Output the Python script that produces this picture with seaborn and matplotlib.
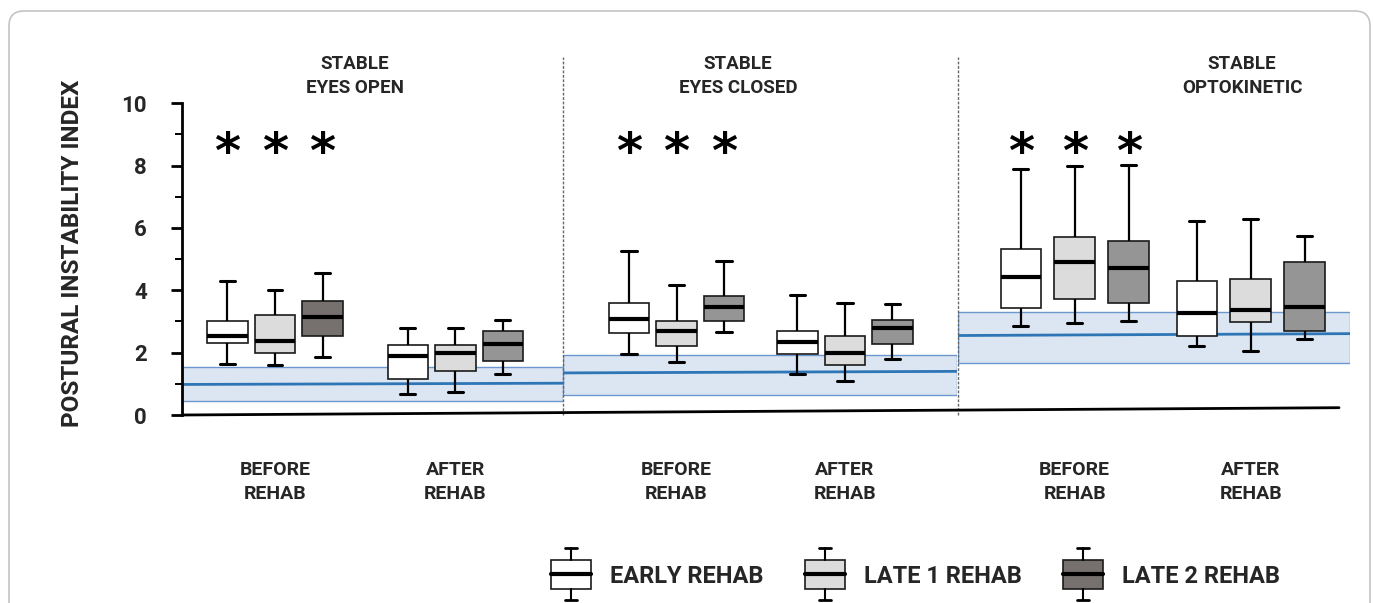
import matplotlib.pyplot as plt
import pandas as pd
import seaborn as sns
from matplotlib import transforms
from matplotlib.legend_handler import HandlerBase
from matplotlib.lines import Line2D
from matplotlib.patches import FancyBboxPatch, Patch, Rectangle

# ---- data ---------------------------------------------------------------
phases = ["BEFORE\nREHAB", "AFTER\nREHAB"]
groups = ["EARLY REHAB", "LATE 1 REHAB", "LATE 2 REHAB"]
panel_titles = ["STABLE\nEYES OPEN", "STABLE\nEYES CLOSED", "STABLE\nOPTOKINETIC"]

# five-number summaries per box: min, q1, median, q3, max
eyes_open_before = [[1.64, 2.30, 2.54, 3.00, 4.31],
                    [1.60, 2.00, 2.39, 3.22, 4.00],
                    [1.87, 2.54, 3.16, 3.65, 4.54]]
eyes_open_after = [[0.66, 1.17, 1.88, 2.24, 2.80],
                   [0.73, 1.41, 2.00, 2.23, 2.80],
                   [1.33, 1.73, 2.27, 2.68, 3.04]]
eyes_closed_before = [[1.95, 2.63, 3.07, 3.59, 5.27],
                      [1.71, 2.20, 2.69, 3.00, 4.17],
                      [2.67, 3.00, 3.48, 3.83, 4.94]]
eyes_closed_after = [[1.30, 1.97, 2.33, 2.70, 3.85],
                     [1.10, 1.59, 1.99, 2.54, 3.59],
                     [1.80, 2.29, 2.78, 3.05, 3.55]]
optokinetic_before = [[2.84, 3.42, 4.43, 5.32, 7.89],
                      [2.94, 3.73, 4.90, 5.70, 8.00],
                      [3.00, 3.59, 4.72, 5.57, 8.03]]
optokinetic_after = [[2.21, 2.55, 3.28, 4.29, 6.22],
                     [2.05, 2.99, 3.36, 4.37, 6.29],
                     [2.43, 2.69, 3.46, 4.92, 5.75]]

# normative range (shaded band) and normative mean line per condition
norm_low = [0.44, 0.65, 1.68]
norm_high = [1.53, 1.94, 3.32]
norm_mean_start = [0.98, 1.35, 2.55]
norm_mean_end = [1.02, 1.40, 2.61]

panels = [
    (eyes_open_before, eyes_open_after),
    (eyes_closed_before, eyes_closed_after),
    (optokinetic_before, optokinetic_after),
]

# ---- style ------------------------------------------------------------
sns.set_style("white")
FONT = ["Roboto", "DejaVu Sans"]
plt.rcParams["font.family"] = FONT
plt.rcParams["font.weight"] = "bold"
plt.rcParams["axes.labelweight"] = "bold"

group_colors = ["#ffffff", "#dcdcdd", "#959595"]
dark_alt = "#76716f"
edge = "#1a1a1a"
band_fill = "#dce6f2"
band_edge = "#6a98cf"
mean_color = "#2e75b6"

W, H = 1373, 603
panel_px = [(181.7, 563.0), (563.0, 957.5), (957.5, 1350.0)]
xlims = [(-0.517, 1.596), (-0.674, 1.668), (-0.666, 1.564)]
box_widths = [0.79, 0.846, 0.92]
box_gaps = [0.15, 0.14, 0.25]
title_x = [0.4545, 0.4436, 0.725]
y_bottom, y_top = 415.0, 103.3


class BoxHandler(HandlerBase):
    """Draws a small box-and-whisker glyph as the legend key."""

    def create_artists(self, legend, orig_handle, xdescent, ydescent,
                       width, height, fontsize, trans):
        x0 = -xdescent
        cx = x0 + width / 2
        yc = 0.36 * fontsize
        hb, hw, hc = 0.61 * fontsize, 1.1 * fontsize, 0.25 * fontsize
        fc = orig_handle.get_facecolor()
        artists = [
            Rectangle((x0, yc - hb), width, 2 * hb, facecolor=fc,
                      edgecolor=edge, lw=1.2, transform=trans),
            Line2D([x0, x0 + width], [yc, yc], color="black", lw=3, transform=trans),
            Line2D([cx, cx], [yc + hb, yc + hw], color="black", lw=1.5, transform=trans),
            Line2D([cx, cx], [yc - hb, yc - hw], color="black", lw=1.5, transform=trans),
            Line2D([cx - hc, cx + hc], [yc + hw] * 2, color="black", lw=2, transform=trans),
            Line2D([cx - hc, cx + hc], [yc - hw] * 2, color="black", lw=2, transform=trans),
        ]
        return artists


fig = plt.figure(figsize=(W / 100, H / 100), dpi=100)

axes = []
for i, (before, after) in enumerate(panels):
    left, right = panel_px[i]
    ax = fig.add_axes([left / W, (H - y_bottom) / H, (right - left) / W,
                       (y_bottom - y_top) / H])
    axes.append(ax)

    rows = []
    for phase, boxes in zip(phases, (before, after)):
        for group, stats in zip(groups, boxes):
            for v in stats:
                rows.append({"phase": phase, "group": group, "value": v})
    df = pd.DataFrame(rows)

    ax.axhspan(norm_low[i], norm_high[i], facecolor=band_fill,
               edgecolor=band_edge, lw=1, zorder=0)
    ax.plot(xlims[i], [norm_mean_start[i], norm_mean_end[i]],
            color=mean_color, lw=2, zorder=1)

    w, g = box_widths[i], box_gaps[i]
    sns.boxplot(
        data=df, x="phase", y="value", hue="group",
        order=phases, hue_order=groups, palette=group_colors,
        width=w, gap=g, whis=(0, 100), showfliers=False,
        linecolor=edge, linewidth=1.2, legend=False, ax=ax,
        medianprops={"color": "black", "linewidth": 3},
        whiskerprops={"color": "black", "linewidth": 1.6},
        capprops={"color": "black", "linewidth": 2.2},
        capwidths=0.37 * w / 3 * (1 - g),
    )

    # the late-2 box before rehab in the first panel is drawn darker
    if i == 0:
        for p in ax.patches:
            ext = p.get_path().get_extents()
            cx = (ext.x0 + ext.x1) / 2
            if 0.1 < cx < 0.5 and ext.height < 5:
                p.set_facecolor(dark_alt)

    # significance marks above each before-rehab box
    for k in range(len(groups)):
        ax.text((k - 1) * w / 3, 7.92, "*", ha="center", va="baseline",
                fontsize=36, fontweight="bold", color="black",
                family="DejaVu Sans")

    ax.set_xlim(xlims[i])
    ax.set_ylim(0, 10)
    ax.set_xlabel("")
    ax.set_ylabel("")
    ax.tick_params(axis="x", length=0, pad=33, labelsize=14)
    for lab in ax.get_xticklabels():
        lab.set_fontweight("bold")
        lab.set_linespacing(1.45)

    blend = transforms.blended_transform_factory(ax.transAxes, ax.transData)
    ax.text(title_x[i], 10.88, panel_titles[i], transform=blend,
            ha="center", va="center", fontsize=13.5, fontweight="bold",
            linespacing=1.4)

    for s in ["top", "right", "bottom"]:
        ax.spines[s].set_visible(False)
    if i > 0:
        ax.spines["left"].set_visible(False)
        ax.set_yticks([])
        ax.axvline(xlims[i][0], ymin=0, ymax=1.15, color="#666666", lw=1,
                   ls=(0, (2, 1.2)), clip_on=False, zorder=5)

ax0 = axes[0]
ax0.spines["left"].set_linewidth(2)
ax0.spines["left"].set_color("black")
ax0.set_yticks(range(0, 11, 2))
ax0.set_yticks(range(1, 10, 2), minor=True)
ax0.tick_params(axis="y", which="major", left=True, length=8, width=2,
                pad=17, labelsize=16, color="black")
ax0.tick_params(axis="y", which="minor", left=True, length=5, width=1.4,
                color="black")
for lab in ax0.get_yticklabels():
    lab.set_fontweight("bold")
ax0.set_ylabel("POSTURAL INSTABILITY INDEX", fontsize=17.5, fontweight="bold")
ax0.yaxis.set_label_coords(-0.255, 0.52)

# slightly tilted baseline running under all three panels
fig.add_artist(Line2D([181.7 / W, 1339 / W], [(H - 415) / H, (H - 407.7) / H],
                      color="black", lw=2))

# rounded frame around the figure
fig.add_artist(FancyBboxPatch((0.09, -0.3), 13.61, 6.22,
                              boxstyle="round,pad=0,rounding_size=0.15",
                              transform=fig.dpi_scale_trans, fill=False,
                              edgecolor="#c4c4c4", lw=1.2))

legend_colors = [group_colors[0], group_colors[1], dark_alt]
handles = [Patch(facecolor=c) for c in legend_colors]
fig.legend(handles, groups, handler_map={Patch: BoxHandler()},
           loc="center", bbox_to_anchor=(915.7 / W, (H - 575) / H),
           ncol=3, frameon=False,
           prop={"family": FONT, "weight": "bold", "size": 17},
           handlelength=1.7, handleheight=1.5, handletextpad=0.8,
           columnspacing=1.75, borderpad=0)

fig.savefig("out.png", dpi=100)
